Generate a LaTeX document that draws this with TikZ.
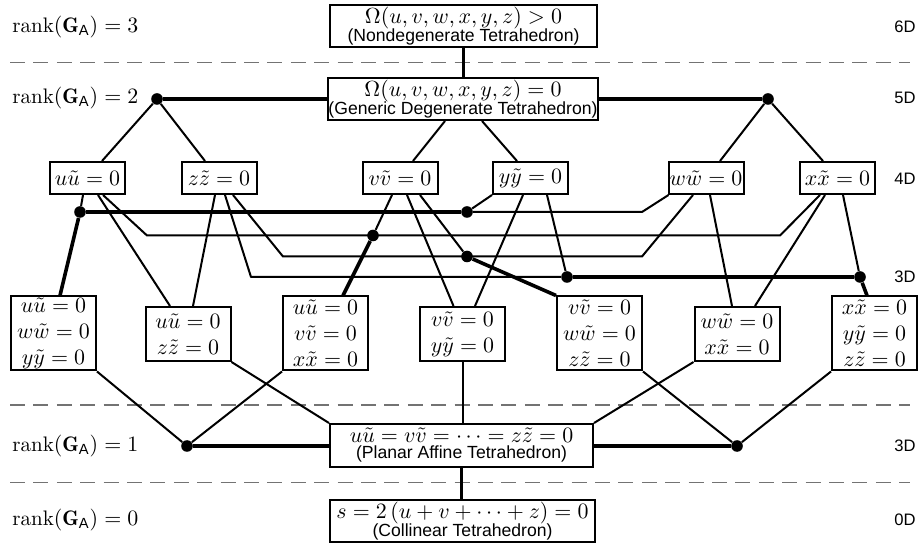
\documentclass[tikz,border=0pt]{standalone}
\usepackage{fontspec}
\setsansfont{Liberation Sans}
\usetikzlibrary{calc}
\newcommand{\subtxt}[1]{{\sffamily\fontsize{8.8}{9}\selectfont #1}}
\begin{document}
\begin{tikzpicture}[x=0.5pt,y=-0.5pt,
  conn/.style={line width=1pt, line join=round},
  thickc/.style={line width=1.8pt, line join=round},
  sep/.style={draw=black!55, line width=0.8pt, dash pattern=on 7.5pt off 4.2pt},
  dot/.style={circle, fill=black, inner sep=0pt, minimum size=5.8pt},
  bigbox/.style={draw, line width=1pt, fill=white, rectangle, inner sep=0pt, align=center,
    minimum height=21pt, font=\fontsize{10.8}{9}\selectfont},
  fbox/.style={draw, line width=1pt, fill=white, rectangle, inner sep=0pt,
    minimum width=37.5pt, minimum height=16pt, font=\fontsize{10.8}{13}\selectfont},
  tbox/.style={draw, line width=1pt, fill=white, rectangle, inner sep=0pt, align=center,
    minimum width=42.5pt, minimum height=37pt, font=\fontsize{10.8}{13}\selectfont},
  pbox/.style={draw, line width=1pt, fill=white, rectangle, inner sep=0pt, align=center,
    minimum width=42.5pt, minimum height=27pt, font=\fontsize{10.8}{13}\selectfont},
  lab/.style={anchor=west, inner sep=0pt, font=\fontsize{10.5}{12}\selectfont},
  dim/.style={inner sep=0pt, font=\sffamily\fontsize{8.3}{9}\selectfont}
]
\useasboundingbox (0,0) rectangle (920,544);

% separators
\draw[sep] (10,62.5) -- (910,62.5);
\draw[sep] (10,405) -- (910,405);
\draw[sep] (10,482.5) -- (910,482.5);

% left labels
\node[lab] (r3) at (12,27) {$\mathrm{rank}(\mathbf{G}_{\mathsf{A}})=3$};
\node[lab] (r2) at (12,98) {$\mathrm{rank}(\mathbf{G}_{\mathsf{A}})=2$};
\node[lab] (r1) at (12,446) {$\mathrm{rank}(\mathbf{G}_{\mathsf{A}})=1$};
\node[lab] (r0) at (12,520) {$\mathrm{rank}(\mathbf{G}_{\mathsf{A}})=0$};

% right labels
\node[dim] (d6) at (905,27) {6D};
\node[dim] (d5) at (905,98) {5D};
\node[dim] (d4) at (905,179) {4D};
\node[dim] (d3a) at (905,277) {3D};
\node[dim] (d3b) at (905,446) {3D};
\node[dim] (d0) at (905,520) {0D};

% big boxes
\node[bigbox, minimum width=133.5pt] (top) at (463.5,26)
  {$\Omega(u,v,w,x,y,z)>0$\\[-1pt]\subtxt{(Nondegenerate Tetrahedron)}};
\node[bigbox, minimum width=133pt] (g5) at (463,99)
  {$\Omega(u,v,w,x,y,z)=0$\\[-1pt]\subtxt{(Generic Degenerate Tetrahedron)}};
\node[bigbox, minimum width=131.5pt, minimum height=21.5pt] (planar) at (461.5,445.5)
  {$u\tilde u=v\tilde v=\cdots=z\tilde z=0$\\[-1pt]\subtxt{(Planar Affine Tetrahedron)}};
\node[bigbox, minimum width=132.5pt] (coll) at (462.5,521)
  {$s=2\,(u+v+\cdots+z)=0$\\[-1pt]\subtxt{(Collinear Tetrahedron)}};

% 4D boxes
\node[fbox] (uu) at (87.5,178) {$u\tilde u=0$};
\node[fbox] (zz) at (219,178) {$z\tilde z=0$};
\node[fbox] (vv) at (400,178) {$v\tilde v=0$};
\node[fbox] (yy) at (530.5,178) {$y\tilde y=0$};
\node[fbox] (ww) at (706,178) {$w\tilde w=0$};
\node[fbox] (xx) at (837.5,178) {$x\tilde x=0$};

% 3D boxes
\node[tbox] (t1) at (53.5,333.5) {$u\tilde u=0$\\$w\tilde w=0$\\$y\tilde y=0$};
\node[pbox] (p1) at (188,334) {$u\tilde u=0$\\$z\tilde z=0$};
\node[tbox] (t2) at (325.5,333.5) {$u\tilde u=0$\\$v\tilde v=0$\\$x\tilde x=0$};
\node[pbox] (p2) at (462.5,334) {$v\tilde v=0$\\$y\tilde y=0$};
\node[tbox] (t3) at (599.5,333.5) {$v\tilde v=0$\\$w\tilde w=0$\\$z\tilde z=0$};
\node[pbox] (p3) at (737,334) {$w\tilde w=0$\\$x\tilde x=0$};
\node[tbox] (t4) at (874.5,333.5) {$x\tilde x=0$\\$y\tilde y=0$\\$z\tilde z=0$};

% dots
\node[dot] (d5L) at (157,99) {};
\node[dot] (d5R) at (768,99) {};
\node[dot] (j1) at (80,212) {};
\node[dot] (j1b) at (467,212) {};
\node[dot] (j2) at (373,235.5) {};
\node[dot] (j3) at (467,256.5) {};
\node[dot] (j4a) at (567,277) {};
\node[dot] (j4b) at (860,277) {};
\node[dot] (d1L) at (187,446) {};
\node[dot] (d1R) at (737,446) {};

% bend points
\coordinate (b212R) at (642,212);
\coordinate (b235L) at (147,235.5);
\coordinate (b235R) at (780,235.5);
\coordinate (b256L) at (283,256.5);
\coordinate (b256R) at (642,256.5);
\coordinate (b277L) at (251,277);

% top part
\draw[thickc] (top.south) -- (top.south |- g5.north);
\draw[thickc] (d5L) -- (d5L -| g5.west);
\draw[thickc] (d5R) -- (d5R -| g5.east);
\draw[conn] (d5L) -- ($(uu.north)+(14.5,0)$);
\draw[conn] (d5L) -- ($(zz.north)+(-14,0)$);
\draw[conn] ($(g5.south)+(-18,0)$) -- ($(vv.north)+(13,0)$);
\draw[conn] ($(g5.south)+(19,0)$) -- ($(yy.north)+(-13.5,0)$);
\draw[conn] (d5R) -- ($(ww.north)+(14,0)$);
\draw[conn] (d5R) -- ($(xx.north)+(-14.5,0)$);

% triple u w y
\draw[conn] ($(uu.south)+(-4.5,0)$) -- (j1);
\draw[thickc] (j1) -- ($(t1.north)+(6.5,0)$);
\draw[thickc] (j1) -- (j1b);
\draw[conn] (j1b) -- (b212R) -- ($(ww.south west)+(1,0)$);
\draw[conn] (yy.south west) -- (j1b);

% triple u v x
\draw[conn] ($(uu.south)+(15.5,0)$) -- (b235L) -- (b235R) -- ($(xx.south)+(-17.5,0)$);
\draw[conn] ($(vv.south)+(-8,0)$) -- (j2);
\draw[thickc] (j2) -- ($(t2.north)+(17.5,0)$);

% triple v w z
\draw[conn] ($(zz.south)+(14,0)$) -- (b256L) -- (b256R) -- ($(ww.south)+(-13,0)$);
\draw[conn] ($(vv.south)+(20,0)$) -- (j3);
\draw[thickc] (j3) -- (t3.north west);

% triple x y z
\draw[conn] ($(zz.south)+(6,0)$) -- (b277L) -- (j4a);
\draw[thickc] (j4a) -- (j4b);
\draw[conn] ($(yy.south)+(16.5,0)$) -- (j4a);
\draw[conn] ($(xx.south)+(5.5,0)$) -- (j4b);
\draw[thickc] (j4b) -- ($(t4.north)+(-7.5,0)$);

% pairs
\draw[conn] ($(uu.south)+(10.5,0)$) -- ($(p1.north)+(-18,0)$);
\draw[conn] ($(zz.south)+(-4,0)$) -- ($(p1.north)+(5,0)$);
\draw[conn] ($(vv.south)+(7,0)$) -- ($(p2.north)+(-9,0)$);
\draw[conn] ($(yy.south)+(-7.5,0)$) -- ($(p2.north)+(12.5,0)$);
\draw[conn] ($(ww.south)+(4,0)$) -- ($(p3.north)+(-5,0)$);
\draw[conn] ($(xx.south)+(-12.5,0)$) -- ($(p3.north)+(18,0)$);

% bottom part
\draw[conn] (t1.south east) -- (d1L);
\draw[conn] (t2.south west) -- (d1L);
\draw[conn] (p1.south east) -- (planar.north west);
\draw[conn] (p2.south) -- (p2.south |- planar.north);
\draw[conn] (t3.south east) -- (d1R);
\draw[conn] (t4.south west) -- (d1R);
\draw[conn] (p3.south west) -- (planar.north east);
\draw[thickc] (d1L) -- (d1L -| planar.west);
\draw[thickc] (d1R) -- (d1R -| planar.east);
\draw[thickc] (planar.south) -- (planar.south |- coll.north);
\end{tikzpicture}
\end{document}
